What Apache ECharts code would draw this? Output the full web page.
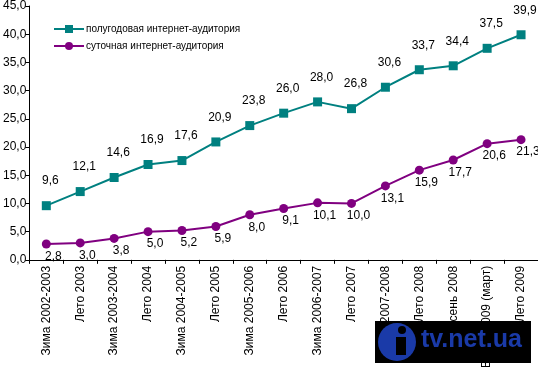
<!DOCTYPE html>
<html><head><meta charset="utf-8">
<script src="https://cdn.jsdelivr.net/npm/echarts@6/dist/echarts.min.js"></script>
<style>html,body{margin:0;padding:0;background:#fff}#c{width:538px;height:371px}</style>
</head><body><div id="c"></div>
<script>
var categories = ['Зима 2002-2003','Лето 2003','Зима 2003-2004','Лето 2004','Зима 2004-2005','Лето 2005','Зима 2005-2006','Лето 2006','Зима 2006-2007','Лето 2007','Зима 2007-2008','Лето 2008','Осень 2008','Весна 2009 (март)','Лето 2009'];
var halfYear = [9.6,12.1,14.6,16.9,17.6,20.9,23.8,26.0,28.0,26.8,30.6,33.7,34.4,37.5,39.9];
var daily = [2.8,3.0,3.8,5.0,5.2,5.9,8.0,9.1,10.1,10.0,13.1,15.9,17.7,20.6,21.3];
var seriesNames = ['полугодовая интернет-аудитория','суточная интернет-аудитория'];

var FONT = 'Liberation Sans';
function fmt(v){ return (typeof v==='number'?v:v.value).toFixed(1).replace('.', ','); }
var chart = echarts.init(document.getElementById('c'), null, {renderer:'canvas'});
chart.setOption({
  animation:false,
  textStyle:{fontFamily:FONT},
  grid:{left:23,right:0,top:5,bottom:101,containLabel:false},
  legend:{
    left:48, top:19, orient:'vertical', itemGap:7, itemWidth:30, itemHeight:10,
    textStyle:{fontFamily:FONT,fontSize:10,color:'#000',padding:[0,0,0,-3]},
    data:[seriesNames[0],seriesNames[1]]
  },
  xAxis:{
    type:'category', data:categories, boundaryGap:true,
    axisLine:{lineStyle:{color:'#000',width:1}},
    axisTick:{show:true,length:4,lineStyle:{color:'#000'},alignWithLabel:false},
    axisLabel:{rotate:90,interval:0,margin:6,color:'#000',fontFamily:FONT,fontSize:12}
  },
  yAxis:{
    type:'value', min:0, max:45, interval:5,
    splitLine:{show:false},
    axisLine:{show:true,lineStyle:{color:'#000',width:1}},
    axisTick:{show:true,length:4,lineStyle:{color:'#000'}},
    axisLabel:{margin:3,color:'#000',fontFamily:FONT,fontSize:12,formatter:function(v){return v.toFixed(1).replace('.',',');}}
  },
  series:[
    {name:seriesNames[0],type:'line',data:halfYear,symbol:'rect',symbolSize:9,
     lineStyle:{color:'#008080',width:2},itemStyle:{color:'#008080'},
     label:{show:true,position:'top',distance:14,offset:[4,0],color:'#000',fontFamily:FONT,fontSize:12,formatter:function(p){return fmt(p.value);}}},
    {name:seriesNames[1],type:'line',data:daily,symbol:'circle',symbolSize:9,
     lineStyle:{color:'#800080',width:2},itemStyle:{color:'#800080'},
     label:{show:true,position:'bottom',distance:2,offset:[7,0],color:'#000',fontFamily:FONT,fontSize:12,formatter:function(p){return fmt(p.value);}}}
  ],
  graphic:[
    {type:'rect',left:375,top:321,shape:{width:156,height:42},style:{fill:'#000'},z:100},
    {type:'circle',shape:{cx:397,cy:342,r:19},style:{fill:'#1a3aa8'},z:101},
    {type:'circle',shape:{cx:402,cy:330,r:4},style:{fill:'#000'},z:102},
    {type:'rect',shape:{x:396,y:337,width:10,height:18},style:{fill:'#000'},z:102},
    {type:'text',left:421,top:328,style:{text:'tv.net.ua',fill:'#1a3aa8',font:'bold 25px "Liberation Sans"'},z:103}
  ]
});
</script></body></html>
